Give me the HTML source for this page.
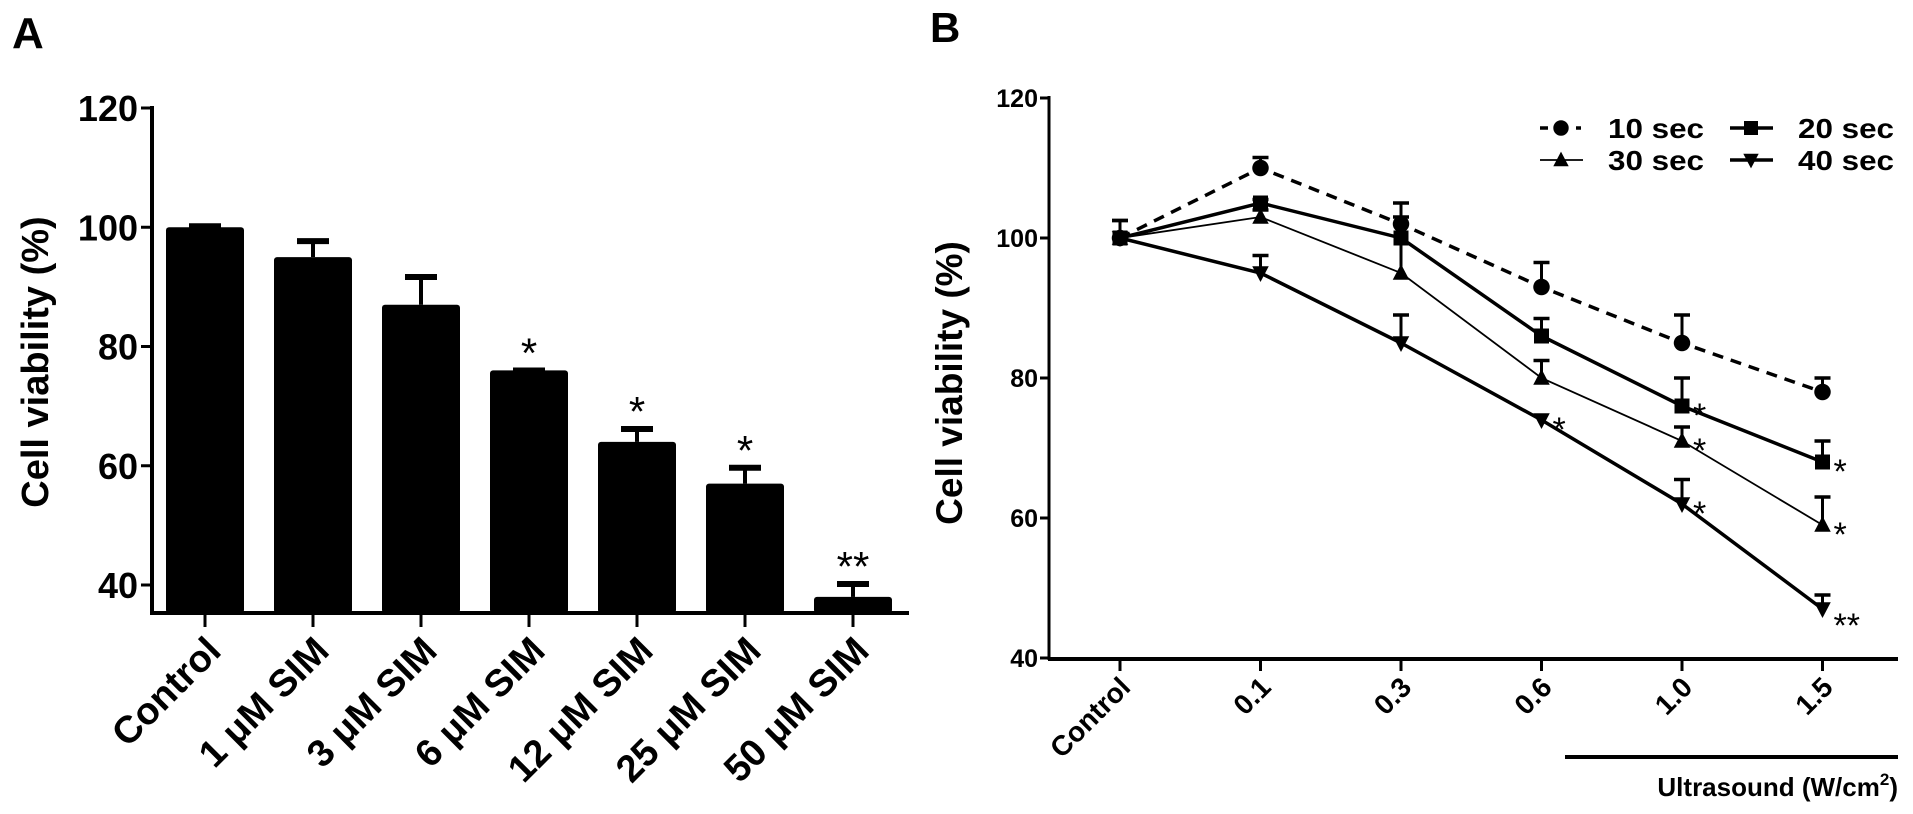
<!DOCTYPE html>
<html><head><meta charset="utf-8">
<style>
html,body{margin:0;padding:0;background:#fff;}
svg{display:block;font-family:"Liberation Sans",Arial,sans-serif;}
</style></head>
<body>
<svg id="fig" width="1913" height="814" viewBox="0 0 1913 814">
  <text x="12" y="48" font-size="44" font-weight="bold">A</text>
  <text x="930" y="42" font-size="42" font-weight="bold">B</text>
  <g id="chartA"></g>
  <g id="chartB"></g>
</svg>
<script>
// ---------- Panel A data ----------
const catsA = ["Control", "1 μM SIM", "3 μM SIM", "6 μM  SIM", "12 μM  SIM", "25 μM SIM", "50 μM SIM"];
const valsA = [100, 95, 87, 76, 64, 57, 38];
const errA = [100.5, 98, 92, 76.3, 66.5, 60, 40.5];
const sigA = ["", "", "", "*", "*", "*", "**"];
const ticksA = [40, 60, 80, 100, 120];

// ---------- Panel B data ----------
const catsB = ["Control", "0.1", "0.3", "0.6", "1.0", "1.5"];
const s10 = [100, 110, 102, 93, 85, 78];
const s20 = [100, 105, 100, 86, 76, 68];
const s30 = [100, 103, 95, 80, 71, 59];
const s40 = [100, 95, 85, 74, 62, 47];
const e10 = [102.5, 111.5, 105, 96.5, 89, 80];
const e20 = [102.5, 105.5, 103, 88.5, 80, 71];
const e30 = [100, 104, 102, 82.5, 73, 63];
const e40 = [100, 97.5, 89, 74, 65.5, 49];
const sig20 = ["", "", "", "", "*", "*"];
const sig30 = ["", "", "", "", "*", "*"];
const sig40 = ["", "", "", "*", "*", "**"];
const ticksB = [40, 60, 80, 100, 120];
const legendNames = ["10 sec", "20 sec", "30 sec", "40 sec"];

const NS = "http://www.w3.org/2000/svg";
function mk(parent, tag, attrs, text) {
  const e = document.createElementNS(NS, tag);
  for (const k in attrs) e.setAttribute(k, attrs[k]);
  if (text !== undefined) e.textContent = text;
  parent.appendChild(e);
  return e;
}

// ===== Panel A =====
const gA = document.getElementById("chartA");
const yA = v => 108 + (120 - v) * (477 / 80);
const xA = i => 205 + i * 108;
const axA = 152, baseA = 613;

let el = mk(gA, "line", {x1: axA, y1: 106, x2: axA, y2: baseA + 2, stroke: "#000", "stroke-width": 4});


el = mk(gA, "line", {x1: axA - 2, y1: baseA, x2: 909, y2: baseA, stroke: "#000", "stroke-width": 4});



ticksA.forEach(t => {
  const y = yA(t);
  let tk = mk(gA, "line", {x1: axA - 11, y1: y, x2: axA, y2: y, stroke: "#000", "stroke-width": 3});
  
  
  let lb = mk(gA, "text", {x: axA - 14, y: y + 13, "font-size": 36, "font-weight": "bold", "text-anchor": "end"}, String(t));
  
  
});

el = mk(gA, "text", {x: 0, y: 0, "font-size": 38, "font-weight": "bold", "text-anchor": "middle", transform: "translate(48,362) rotate(-90)"}, "Cell viability (%)");



catsA.forEach((c, i) => {
  const x = xA(i);
  const bw = 78;
  let b = mk(gA, "rect", {x: x - bw / 2, y: yA(valsA[i]), width: bw, height: baseA - yA(valsA[i]), fill: "#000", rx: 3});
  
  
  let eb = mk(gA, "line", {x1: x, y1: yA(valsA[i]), x2: x, y2: yA(errA[i]), stroke: "#000", "stroke-width": 4});
  
  
  let cap = mk(gA, "line", {x1: x - 16, y1: yA(errA[i]) + 2, x2: x + 16, y2: yA(errA[i]) + 2, stroke: "#000", "stroke-width": 6});
  
  
  let tk = mk(gA, "line", {x1: x, y1: baseA, x2: x, y2: baseA + 14, stroke: "#000", "stroke-width": 3});
  
  
  let lb = mk(gA, "text", {x: 0, y: 0, "font-size": 38, "font-weight": "bold", "text-anchor": "end", transform: `translate(${x + 18},${baseA + 40}) rotate(-45)`}, c);
  
  
  if (sigA[i]) {
    let s = mk(gA, "text", {x: x, y: yA(errA[i]) - 1, "font-size": 42, "text-anchor": "middle"}, sigA[i]);
    
    
  }
});

// ===== Panel B =====
const gB = document.getElementById("chartB");
const yB = v => 98 + (120 - v) * 7;
const xB = i => 1120 + i * 140.5;
const axB = 1049, baseB = 659;

el = mk(gB, "line", {x1: axB, y1: 96, x2: axB, y2: baseB + 1, stroke: "#000", "stroke-width": 3});


el = mk(gB, "line", {x1: axB - 1, y1: baseB, x2: 1898, y2: baseB, stroke: "#000", "stroke-width": 4});



ticksB.forEach(t => {
  const y = yB(t);
  let tk = mk(gB, "line", {x1: axB - 9, y1: y, x2: axB, y2: y, stroke: "#000", "stroke-width": 3});
  
  
  let lb = mk(gB, "text", {x: axB - 11, y: y + 9, "font-size": 25, "font-weight": "bold", "text-anchor": "end"}, String(t));
  
  
});

el = mk(gB, "text", {x: 0, y: 0, "font-size": 37, "font-weight": "bold", "text-anchor": "middle", transform: "translate(962,383) rotate(-90)"}, "Cell viability (%)");



catsB.forEach((c, i) => {
  const x = xB(i);
  let tk = mk(gB, "line", {x1: x, y1: baseB, x2: x, y2: baseB + 12, stroke: "#000", "stroke-width": 3});
  
  
  let lb = mk(gB, "text", {x: 0, y: 0, "font-size": 28, "font-weight": "bold", "text-anchor": "end", transform: `translate(${x + 12},${baseB + 30}) rotate(-45)`}, c);
  
  
});

el = mk(gB, "line", {x1: 1565, y1: 757, x2: 1898, y2: 757, stroke: "#000", "stroke-width": 4});


const ut = mk(gB, "text", {x: 1898, y: 796, "font-size": 26, "font-weight": "bold", "text-anchor": "end"});


mk(ut, "tspan", {}, "Ultrasound (W/cm");
mk(ut, "tspan", {"font-size": 17, dy: -11}, "2");
mk(ut, "tspan", {dy: 11}, ")");

function marker(g, type, x, y, s) {
  let m;
  if (type === "circle") m = mk(g, "circle", {cx: x, cy: y, r: s * 0.55, fill: "#000"});
  else if (type === "square") m = mk(g, "rect", {x: x - s / 2, y: y - s / 2, width: s, height: s, fill: "#000"});
  else if (type === "tri") m = mk(g, "polygon", {points: `${x},${y - s * 0.6} ${x - s * 0.55},${y + s * 0.45} ${x + s * 0.55},${y + s * 0.45}`, fill: "#000"});
  else m = mk(g, "polygon", {points: `${x},${y + s * 0.6} ${x - s * 0.55},${y - s * 0.45} ${x + s * 0.55},${y - s * 0.45}`, fill: "#000"});
  return m;
}

const seriesB = [
  {name: "10-sec", vals: s10, errs: e10, sig: null, type: "circle", w: 3.5, dash: "11 8"},
  {name: "20-sec", vals: s20, errs: e20, sig: sig20, type: "square", w: 3.5, dash: ""},
  {name: "30-sec", vals: s30, errs: e30, sig: sig30, type: "tri", w: 1.8, dash: ""},
  {name: "40-sec", vals: s40, errs: e40, sig: sig40, type: "inv", w: 3.5, dash: ""}
];

seriesB.forEach(s => {
  const g = mk(gB, "g", {});
  
  
  const pts = s.vals.map((v, i) => `${xB(i)},${yB(v)}`).join(" ");
  const ln = mk(g, "polyline", {points: pts, fill: "none", stroke: "#000", "stroke-width": s.w, "stroke-dasharray": s.dash});
  
  
  s.vals.forEach((v, i) => {
    const x = xB(i);
    if (s.errs[i] > v + 0.3) {
      let eb = mk(g, "line", {x1: x, y1: yB(v), x2: x, y2: yB(s.errs[i]), stroke: "#000", "stroke-width": 3});
      
      
      let cap = mk(g, "line", {x1: x - 8, y1: yB(s.errs[i]), x2: x + 8, y2: yB(s.errs[i]), stroke: "#000", "stroke-width": 3.5});
      
      
    }
    const m = marker(g, s.type, x, yB(v), 15);
    
    
    if (s.sig && s.sig[i]) {
      const dbl = s.sig[i] === "**";
      const st = mk(g, "text", {x: x + 11, y: yB(v) + (dbl ? 28 : 21), "font-size": 34}, s.sig[i]);
      
      
    }
  });
});

// legend
const legPos = [[1540, 128], [1730, 128], [1540, 160], [1730, 160]];
seriesB.forEach((s, k) => {
  const [lx, ly] = legPos[k];
  const g = mk(gB, "g", {});
  
  
  if (s.dash) {
    mk(g, "line", {x1: lx, y1: ly, x2: lx + 8, y2: ly, stroke: "#000", "stroke-width": 3.5});
    mk(g, "line", {x1: lx + 36, y1: ly, x2: lx + 41, y2: ly, stroke: "#000", "stroke-width": 3.5});
  } else {
    mk(g, "line", {x1: lx, y1: ly, x2: lx + 43, y2: ly, stroke: "#000", "stroke-width": s.w});
  }
  marker(g, s.type, lx + 21, ly, 14);
  const t = mk(g, "text", {x: lx + 68, y: ly + 10, "font-size": 28, "font-weight": "bold", textLength: 96, lengthAdjust: "spacingAndGlyphs"}, legendNames[k]);
  
  
});
</script>
</body></html>
